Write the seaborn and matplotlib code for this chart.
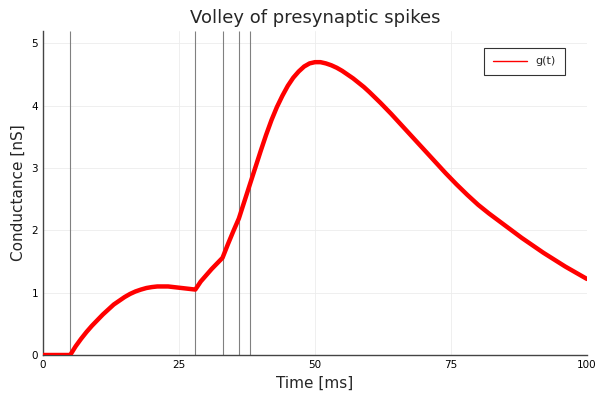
import numpy as np
import pandas as pd
import matplotlib
matplotlib.use("Agg")
import matplotlib.pyplot as plt
import seaborn as sns

## presynaptic spike times [ms]
spike_times = [5, 28, 33, 36, 38]

## conductance
time_ms = [0, 5, 6, 7, 8, 9, 10, 11, 12, 13, 14, 15, 16, 17, 18, 19, 20,
           21, 22, 23, 24, 25, 26, 27, 28,
           29, 30, 31, 32, 33, 34, 35, 36, 37, 38, 39, 40, 41, 42, 43,
           44, 45, 46, 47, 48, 49, 50, 51, 52, 53, 54, 55, 56, 57, 58,
           59, 60, 62, 64, 66, 68, 70, 72, 74, 76, 78, 80, 82, 84, 86,
           88, 90, 92, 94, 96, 98, 100]
conductance = [0, 0, 0.14, 0.26, 0.37, 0.47, 0.56, 0.65, 0.73, 0.81, 0.87,
               0.93, 0.98, 1.02, 1.05, 1.075, 1.09, 1.10, 1.10, 1.10, 1.09,
               1.08, 1.07, 1.06, 1.05,
               1.18, 1.28, 1.38, 1.47, 1.56, 1.78, 1.99, 2.19, 2.46, 2.73,
               3.00, 3.27, 3.53, 3.77, 3.98, 4.16, 4.32, 4.45, 4.55, 4.63,
               4.68, 4.70, 4.70, 4.68, 4.65, 4.61, 4.56, 4.50, 4.44, 4.37,
               4.30, 4.22, 4.05, 3.87, 3.68, 3.49, 3.30, 3.11, 2.92, 2.74,
               2.57, 2.41, 2.27, 2.14, 2.01, 1.88, 1.76, 1.64, 1.53, 1.42,
               1.32, 1.22]

x_ticks = [0, 25, 50, 75, 100]
y_ticks = [0, 1, 2, 3, 4, 5]

df = pd.DataFrame({"t": time_ms, "g": conductance})

sns.set_style("white")
plt.rcParams['font.family'] = ['DejaVu Sans']

fig = plt.figure(figsize=(6, 4), dpi=100)
ax = fig.add_axes([0.0717, 0.1125, 0.9066, 0.81])

## grid lines
ax.grid(True, color="#ececec", linewidth=0.6)
ax.set_axisbelow(True)

## spike markers
ax.vlines(spike_times, 0, 5.2, color="#808080", linewidth=0.8, zorder=2)

## conductance trace
sns.lineplot(data=df, x="t", y="g", color="#ff0000", linewidth=3.2,
             label="g(t)", ax=ax, zorder=3)

ax.set(xlim=(0, 100), ylim=(0, 5.2), xticks=x_ticks, yticks=y_ticks)
ax.set_xlabel("Time [ms]", fontsize=11)
ax.set_ylabel("Conductance [nS]", fontsize=11)
ax.set_title("Volley of presynaptic spikes", fontsize=13)
ax.tick_params(direction="in", length=3, width=0.8, labelsize=7.5,
               colors="#333333", labelcolor="black")

for side in ["top", "right"]:
    ax.spines[side].set_visible(False)
for side in ["left", "bottom"]:
    ax.spines[side].set_color("#444444")
    ax.spines[side].set_linewidth(1.0)

leg = ax.legend(loc="upper right", fontsize=8, frameon=True, fancybox=False,
                edgecolor="black", borderpad=0.8, handlelength=3.0,
                bbox_to_anchor=(0.969, 0.966))
leg.get_frame().set_linewidth(0.8)
for line in leg.get_lines():
    line.set_linewidth(1.0)

fig.savefig("out.png", dpi=100)
